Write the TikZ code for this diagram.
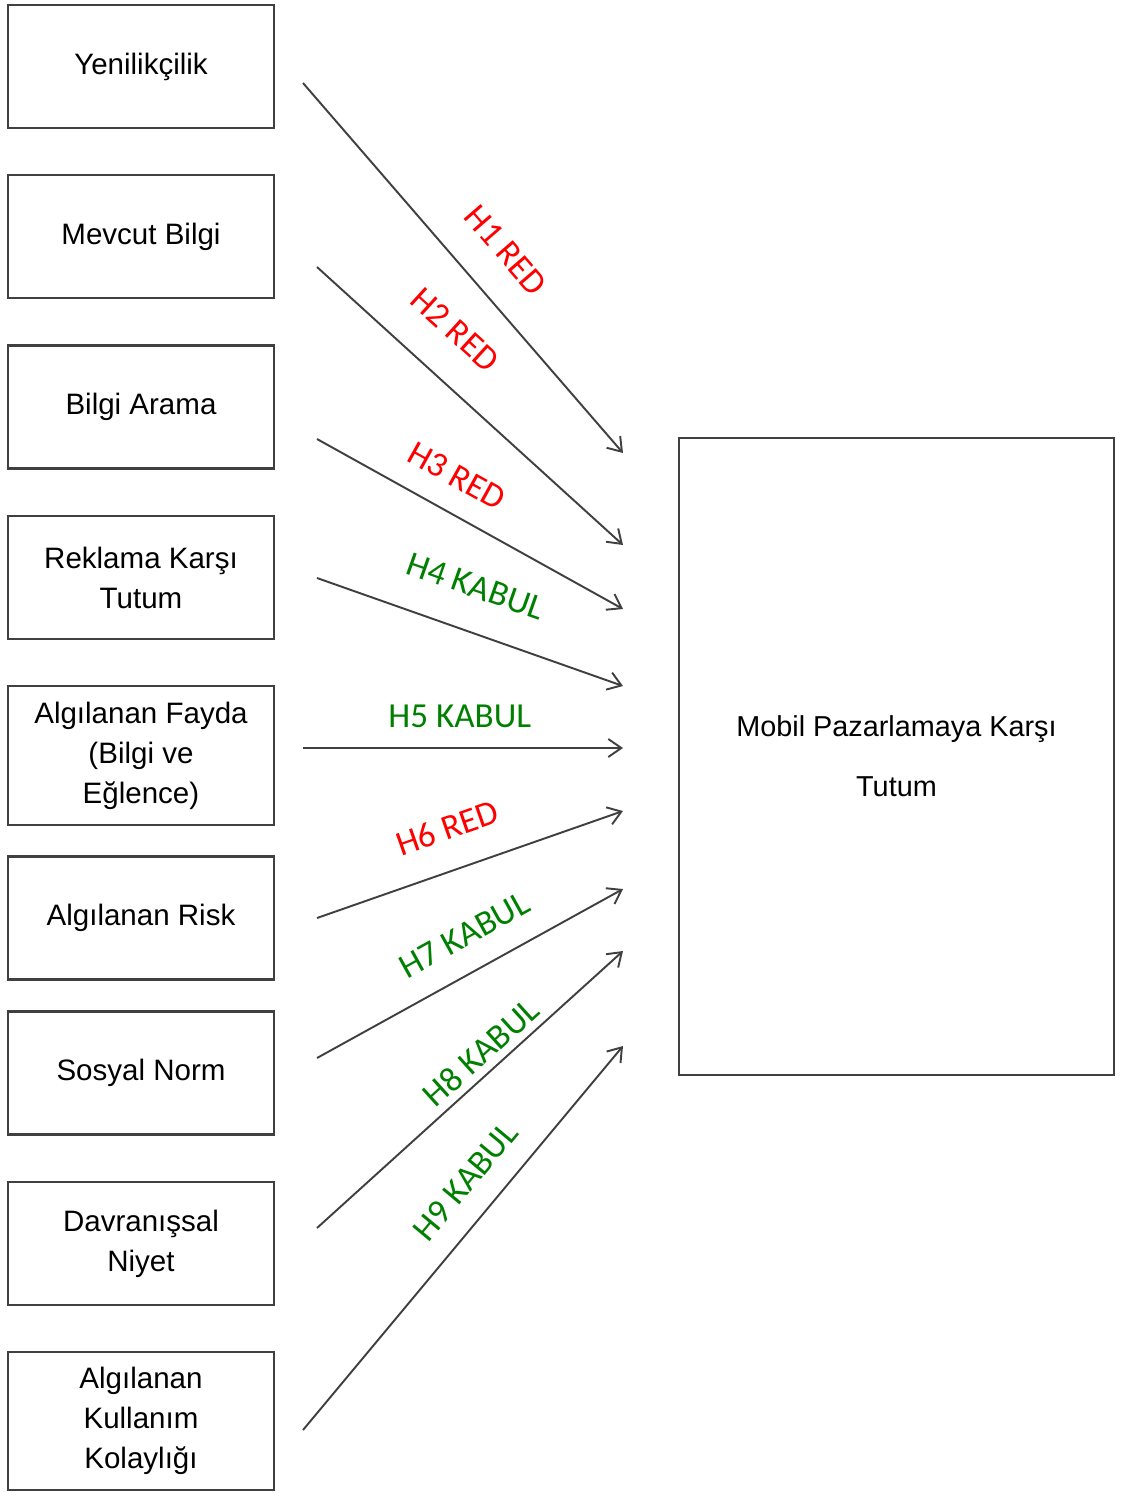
\documentclass[tikz,border=0pt]{standalone}
\usepackage{fontspec}
\setmainfont{Liberation Sans}
\newfontfamily\hypfont{Carlito}
\usetikzlibrary{arrows.meta}

\definecolor{rejected}{RGB}{255,0,0}
\definecolor{accepted}{RGB}{0,128,0}

\begin{document}
\begin{tikzpicture}[
    >={Straight Barb[length=2.6mm,width=3.6mm]},
    factor/.style={
        rectangle,
        draw=black!75,
        line width=1.3pt,
        minimum width=5.32cm,
        minimum height=2.46cm,
        inner sep=0pt,
        align=center,
        font=\fontsize{16.8}{22.7}\selectfont
    },
    target/.style={
        rectangle,
        draw=black!75,
        line width=1.3pt,
        minimum width=8.7cm,
        minimum height=12.74cm,
        align=center,
        font=\fontsize{16.4}{34}\selectfont
    },
    hyp/.style={
        sloped,
        inner sep=0pt,
        text=#1,
        font=\hypfont\fontsize{20}{24}\selectfont
    },
    link/.style={->,line width=1.1pt,draw=black!75}
]
\useasboundingbox (0,0) rectangle (22.52,-29.84);

% Antecedents (left column)
\node[factor] (yenilik) at (2.82,-1.33) {Yenilikçilik};
\node[factor] (mevcut) at (2.82,-4.73) {Mevcut Bilgi};
\node[factor] (arama) at (2.82,-8.14) {Bilgi Arama};
\node[factor] (reklam) at (2.82,-11.55) {Reklama Karşı\\Tutum};
\node[factor,minimum height=2.78cm] (fayda) at (2.82,-15.11) {Algılanan Fayda\\(Bilgi ve\\Eğlence)};
\node[factor] (risk) at (2.82,-18.36) {Algılanan Risk};
\node[factor] (norm) at (2.82,-21.46) {Sosyal Norm};
\node[factor] (niyet) at (2.82,-24.87) {Davranışsal\\Niyet};
\node[factor,minimum height=2.76cm] (kolay) at (2.82,-28.42) {Algılanan\\Kullanım\\Kolaylığı};

% Outcome
\node[target] (tutum) at (17.93,-15.13) {Mobil Pazarlamaya Karşı\\Tutum};

% Arrow end points
\coordinate (s1) at (6.06,-1.66);  \coordinate (e1) at (12.46,-9.06);
\coordinate (s2) at (6.34,-5.34);  \coordinate (e2) at (12.46,-10.90);
\coordinate (s3) at (6.34,-8.78);  \coordinate (e3) at (12.46,-12.18);
\coordinate (s4) at (6.34,-11.56); \coordinate (e4) at (12.46,-13.72);
\coordinate (s5) at (6.06,-14.96); \coordinate (e5) at (12.46,-14.96);
\coordinate (s6) at (6.34,-18.36); \coordinate (e6) at (12.46,-16.22);
\coordinate (s7) at (6.34,-21.16); \coordinate (e7) at (12.46,-17.78);
\coordinate (s8) at (6.34,-24.56); \coordinate (e8) at (12.46,-19.02);
\coordinate (s9) at (6.06,-28.60); \coordinate (e9) at (12.46,-20.92);

% Hypotheses
\draw[link] (s1) -- node[hyp=rejected,pos=0.53,yshift=25.1pt] {H1 RED} (e1);
\draw[link] (s2) -- node[hyp=rejected,pos=0.35,yshift=26.5pt] {H2 RED} (e2);
\draw[link] (s3) -- node[hyp=rejected,pos=0.40,yshift=20.2pt] {H3 RED} (e3);
\draw[link] (s4) -- node[hyp=accepted,pos=0.47,yshift=25.6pt] {H4 KABUL} (e4);
\draw[link] (s5) -- node[hyp=accepted,pos=0.49,yshift=18.1pt] {H5 KABUL} (e5);
\draw[link] (s6) -- node[hyp=rejected,pos=0.47,yshift=23.9pt] {H6 RED} (e6);
\draw[link] (s7) -- node[hyp=accepted,pos=0.54,yshift=20.7pt] {H7 KABUL} (e7);
\draw[link] (s8) -- node[hyp=accepted,pos=0.58,yshift=11.6pt] {H8 KABUL} (e8);
\draw[link] (s9) -- node[hyp=accepted,pos=0.59,yshift=19.7pt] {H9 KABUL} (e9);

\end{tikzpicture}
\end{document}
